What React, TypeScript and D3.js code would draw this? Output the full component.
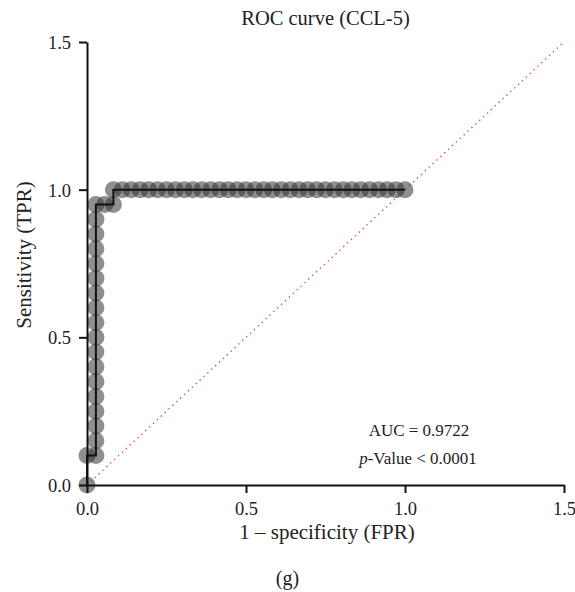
import React, { useEffect, useRef } from 'react';
import * as d3 from 'd3';

// ROC points
const fpr = [
  0, 0,
  0.028, 0.028, 0.028, 0.028, 0.028, 0.028, 0.028, 0.028, 0.028,
  0.028, 0.028, 0.028, 0.028, 0.028, 0.028, 0.028, 0.028, 0.028,
  0.056, 0.083,
  0.083, 0.111, 0.139, 0.167, 0.194, 0.222, 0.25, 0.278, 0.306, 0.333,
  0.361, 0.389, 0.417, 0.444, 0.472, 0.5, 0.528, 0.556, 0.583, 0.611,
  0.639, 0.667, 0.694, 0.722, 0.75, 0.778, 0.806, 0.833, 0.861, 0.889,
  0.917, 0.944, 0.972, 1.0,
];
const tpr = [
  0, 0.1,
  0.1, 0.15, 0.2, 0.25, 0.3, 0.35, 0.4, 0.45, 0.5,
  0.55, 0.6, 0.65, 0.7, 0.75, 0.8, 0.85, 0.9, 0.95,
  0.95, 0.95,
  1, 1, 1, 1, 1, 1, 1, 1, 1, 1,
  1, 1, 1, 1, 1, 1, 1, 1, 1, 1,
  1, 1, 1, 1, 1, 1, 1, 1, 1, 1,
  1, 1, 1, 1,
];
const ticks = [0, 0.5, 1.0, 1.5];
const diagonal = [0, 1.5];

const title = 'ROC curve (CCL-5)';
const xTitle = '1 \u2013 specificity (FPR)';
const yTitle = 'Sensitivity (TPR)';
const aucText = 'AUC = 0.9722';
const panel = '(g)';

export default function App() {
  const ref = useRef<SVGSVGElement | null>(null);

  useEffect(() => {
    const width = 575;
    const height = 592;
    const left = 87, right = 564, top = 42, bottom = 485;
    const font = "'Liberation Serif', 'DejaVu Serif', serif";

    const svg = d3.select(ref.current);
    svg.selectAll('*').remove();
    svg.attr('width', width).attr('height', height);

    const x = d3.scaleLinear().domain([0, 1.5]).range([left, right]);
    const y = d3.scaleLinear().domain([0, 1.5]).range([bottom, top]);

    const pts = fpr.map((f, i) => ({ f, t: tpr[i] }));

    // diagonal reference
    svg.append('line')
      .attr('x1', x(diagonal[0])).attr('y1', y(diagonal[0]))
      .attr('x2', x(diagonal[1])).attr('y2', y(diagonal[1]))
      .attr('stroke', '#e8383d')
      .attr('stroke-width', 1.3)
      .attr('stroke-dasharray', '1.3,4');

    // markers
    svg.append('g')
      .selectAll('circle')
      .data(pts)
      .join('circle')
      .attr('cx', d => x(d.f))
      .attr('cy', d => y(d.t))
      .attr('r', 8.5)
      .attr('fill', '#333')
      .attr('fill-opacity', 0.55);

    // step line
    const line = d3.line<{ f: number; t: number }>()
      .x(d => x(d.f))
      .y(d => y(d.t));
    svg.append('path')
      .datum(pts)
      .attr('fill', 'none')
      .attr('stroke', '#111')
      .attr('stroke-width', 2)
      .attr('d', line);

    // axes
    const xAxis = svg.append('g')
      .attr('transform', `translate(0,${bottom})`)
      .call(d3.axisBottom(x).tickValues(ticks).tickFormat(d3.format('.1f')).tickSize(8).tickSizeOuter(0));
    const yAxis = svg.append('g')
      .attr('transform', `translate(${left},0)`)
      .call(d3.axisLeft(y).tickValues(ticks).tickFormat(d3.format('.1f')).tickSize(8).tickSizeOuter(0).tickPadding(8));
    [xAxis, yAxis].forEach(g => {
      g.selectAll('path, line').attr('stroke', '#111').attr('stroke-width', 2);
      g.selectAll('text').attr('font-family', font).attr('font-size', 18.5).attr('fill', '#222');
    });
    xAxis.selectAll('text').attr('y', 30).attr('dy', null);
    yAxis.selectAll('text').attr('dy', '0.35em');

    const txt = (tx: number, ty: number, s: string, size: number) =>
      svg.append('text')
        .attr('x', tx).attr('y', ty)
        .attr('text-anchor', 'middle')
        .attr('font-family', font)
        .attr('font-size', size)
        .attr('fill', '#222')
        .text(s);

    txt((left + right) / 2, 25, title, 20.5);
    txt(327, 539, xTitle, 21);
    txt(width / 2, 585, panel, 20);
    svg.append('text')
      .attr('transform', `translate(31,255) rotate(-90)`)
      .attr('text-anchor', 'middle')
      .attr('font-family', font)
      .attr('font-size', 21)
      .attr('fill', '#222')
      .text(yTitle);

    txt(419, 436, aucText, 17);
    const pv = txt(418, 464, '', 17);
    pv.append('tspan').attr('font-style', 'italic').text('p');
    pv.append('tspan').text('-Value < 0.0001');
  }, []);

  return (
    <svg ref={ref} style={{ position: 'absolute', left: 0, top: 0, background: '#fff' }} />
  );
}
